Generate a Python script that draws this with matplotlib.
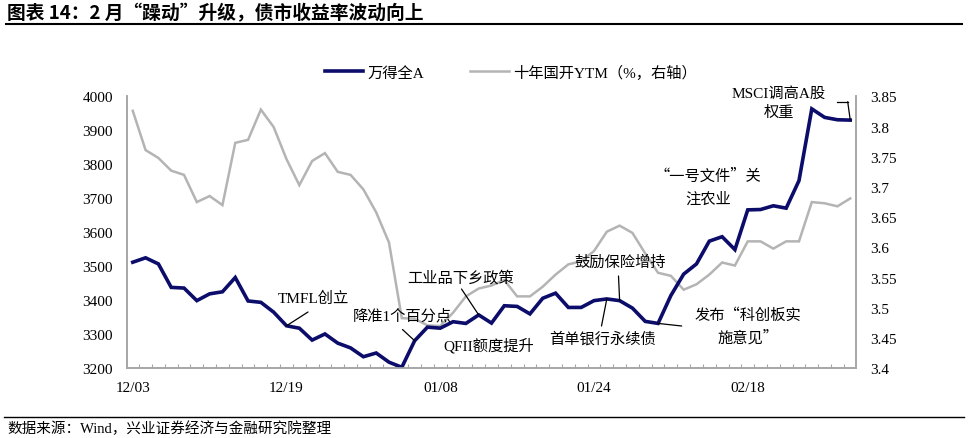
import matplotlib.pyplot as plt
from matplotlib.lines import Line2D

plt.rcParams['font.family'] = ['Liberation Serif', 'Noto Sans CJK SC']
plt.rcParams['font.size'] = 11

# trading days 2018-12-03 .. 2019-02-28
dates = ['12/03', '12/04', '12/05', '12/06', '12/07', '12/10', '12/11', '12/12', '12/13', '12/14',
         '12/17', '12/18', '12/19', '12/20', '12/21', '12/24', '12/25', '12/26', '12/27', '12/28',
         '01/02', '01/03', '01/04', '01/07', '01/08', '01/09', '01/10', '01/11', '01/14', '01/15',
         '01/16', '01/17', '01/18', '01/21', '01/22', '01/23', '01/24', '01/25', '01/28', '01/29',
         '01/30', '01/31', '02/01', '02/11', '02/12', '02/13', '02/14', '02/15', '02/18', '02/19',
         '02/20', '02/21', '02/22', '02/25', '02/26', '02/27', '02/28']

wind_a = [3512, 3525, 3507, 3438, 3436, 3399, 3419, 3425, 3467, 3398,
          3394, 3365, 3325, 3318, 3283, 3301, 3274, 3260, 3234, 3245,
          3218, 3203, 3281, 3321, 3318, 3337, 3332, 3357, 3333, 3384,
          3382, 3360, 3406, 3421, 3379, 3379, 3399, 3404, 3399, 3377,
          3338, 3332, 3414, 3477, 3507, 3574, 3587, 3549, 3666, 3667,
          3678, 3671, 3752, 3963, 3938, 3931, 3930]

cdb_ytm = [3.826, 3.761, 3.748, 3.727, 3.720, 3.675, 3.685, 3.670, 3.773, 3.778,
           3.828, 3.799, 3.746, 3.703, 3.743, 3.756, 3.725, 3.720, 3.696, 3.658,
           3.608, 3.483, 3.482, 3.471, 3.470, 3.492, 3.519, 3.532, 3.537, 3.546,
           3.519, 3.519, 3.535, 3.555, 3.572, 3.577, 3.594, 3.626, 3.636, 3.624,
           3.590, 3.558, 3.553, 3.530, 3.539, 3.555, 3.575, 3.570, 3.610, 3.610,
           3.598, 3.610, 3.610, 3.675, 3.673, 3.668, 3.681]

label_step = 12
events = [
    # (text, index on curve, text centre px, line start px)
    ('TMFL创立', 12, (313, 299), (308, 313)),
    ('降准1个百分点', 22, (402, 316), (402.5, 330.5)),
    ('工业品下乡政策', 27, (461, 278), (461.5, 290)),
    ('QFII额度提升', None, (489, 346), None),
    ('鼓励保险增持', 38, (620, 263), (618.5, 277)),
    ('首单银行永续债', 37, (603, 339), (601.5, 327)),
    ('发布“科创板实\n施意见”', 41, (748, 327), (681.7, 327)),
    ('“一号文件”关\n注农业', None, (708, 188), None),
]

W, H = 974, 439
BLUE = '#0c0c6b'
GREY = '#b4b4b4'
AX_COL = '#a6a6a6'
CJK_FIRST = ['Noto Sans CJK SC', 'Liberation Serif']


def px(x, y):
    return (x / W, 1 - y / H)


fig = plt.figure(figsize=(9.74, 4.39), dpi=100)
ax = fig.add_axes([127 / W, 1 - 369.3 / H, (856 - 127) / W, 272 / H])
ax2 = ax.twinx()
ax.set_zorder(ax2.get_zorder() + 1)
ax.patch.set_visible(False)

x = list(range(len(dates)))
ax2.plot(x, cdb_ytm, color=GREY, lw=1.8, solid_joinstyle='miter')
ax.plot(x, wind_a, color=BLUE, lw=2.6, solid_joinstyle='miter')

ax.set_xlim(-0.45, len(dates) - 0.55)
ax.set_ylim(3200, 4000)
ax.set_yticks(range(3200, 4001, 100))
ax2.set_ylim(3.4, 3.85)
ax2.set_yticks([3.4 + 0.05 * i for i in range(10)])
ax2.set_yticklabels(['3.4', '3.45', '3.5', '3.55', '3.6', '3.65', '3.7', '3.75', '3.8', '3.85'])

ax.set_xticks(x[::label_step])
ax.set_xticklabels(dates[::label_step])
ax.set_xticks([i + 0.5 for i in range(len(dates) - 1)], minor=True)
ax.tick_params(axis='x', which='major', length=0, pad=9)
ax.tick_params(axis='x', which='minor', direction='in', length=3, color=AX_COL, width=0.8)
ax.tick_params(axis='y', length=0, pad=10)
ax2.tick_params(axis='y', length=0, pad=10)

for a in (ax, ax2):
    a.spines['top'].set_visible(False)
    for s in ('left', 'right', 'bottom'):
        a.spines[s].set_color(AX_COL)
        a.spines[s].set_linewidth(1.2)

# event annotations
for text, idx, tpos, lpos in events:
    fam = CJK_FIRST if '“' in text else None
    fig.text(*px(*tpos), text, ha='center', va='center', linespacing=1.45, family=fam)
    if idx is not None:
        ax.annotate('', xy=(idx, wind_a[idx]), xycoords='data',
                    xytext=px(*lpos), textcoords='figure fraction',
                    arrowprops=dict(arrowstyle='-', color='black', lw=0.9,
                                    shrinkA=0, shrinkB=0))

fig.text(*px(779, 103.5), 'MSCI调高A股\n权重', ha='center', va='center', linespacing=1.4)
fig.add_artist(Line2D([836.7 / W, 847.7 / W], [1 - 102.7 / H, 1 - 102.7 / H],
                      color='black', lw=0.9))
ax.annotate('', xy=(len(dates) - 1, wind_a[-1]), xycoords='data',
            xytext=px(847.7, 102.7), textcoords='figure fraction',
            arrowprops=dict(arrowstyle='-', color='black', lw=0.9, shrinkA=0, shrinkB=0))

# legend
handles = [Line2D([], [], color=BLUE, lw=2.6), Line2D([], [], color=GREY, lw=1.8)]
fig.legend(handles, ['万得全A', '十年国开YTM（%，右轴）'], loc='center',
           bbox_to_anchor=px(511, 73), ncol=2, frameon=False,
           handlelength=2.5, handletextpad=0.3, columnspacing=3.0)

# title and source
fig.text(*px(7, 14), '图表 14：2 月“躁动”升级，债市收益率波动向上', ha='left', va='center',
         fontsize=13.5, fontweight='bold', family=CJK_FIRST)
fig.add_artist(Line2D([6 / W, 962 / W], [1 - 24.5 / H, 1 - 24.5 / H], color='black', lw=1.5))
fig.add_artist(Line2D([4 / W, 964 / W], [1 - 417.5 / H, 1 - 417.5 / H], color='black', lw=1.0))
fig.text(*px(7, 429), '数据来源：Wind，兴业证券经济与金融研究院整理', ha='left', va='center',
         fontsize=10.5)

fig.savefig('out.png', dpi=100)
